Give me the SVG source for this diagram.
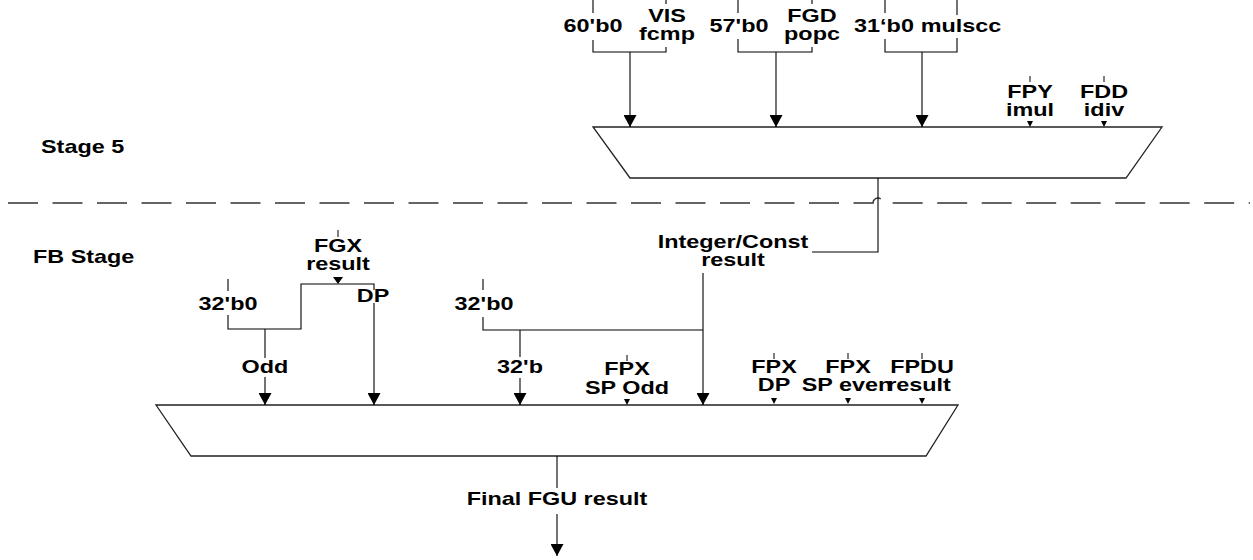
<svg xmlns="http://www.w3.org/2000/svg" width="1253" height="560" viewBox="0 0 1253 560">
<style>
.t{font-family:"Liberation Sans",Arial,sans-serif;font-weight:bold;font-size:18px;fill:#000;text-anchor:middle}
.s{text-anchor:start}
.ln{fill:none;stroke:#000;stroke-width:1.1}
.mux{fill:#fff;stroke:#222;stroke-width:1.3}
.tri{fill:#000}
.tick{stroke:#000;stroke-width:1}
.dash{fill:none;stroke:#333;stroke-width:1.5;stroke-dasharray:30 14.5}
</style>
<defs>
<marker id="ah" viewBox="0 0 12 13" refX="12" refY="6.5" markerWidth="12" markerHeight="13" markerUnits="userSpaceOnUse" orient="auto">
<path d="M0,0 L12,6.5 L0,13 z" fill="#000"/>
</marker>
</defs>
<rect width="1253" height="560" fill="#fff"/>

<g id="stage-labels">
<text class="t s" transform="translate(41,153) scale(1.3,1)">Stage 5</text>
<text class="t s" transform="translate(33,263) scale(1.3,1)">FB Stage</text>
</g>

<path id="stage-divider" class="dash" d="M8,203 H873 A5,5 0 0 1 883,203 H1250"/>

<g id="mux-stage5">
<polygon class="mux" points="593,127 1162,127 1126,178 630,178"/>
</g>
<g id="mux-fb">
<polygon class="mux" points="156,405 958,405 926,456 191,456"/>
</g>

<g id="in-60b0-vis">
<text class="t" transform="translate(593,32) scale(1.3,1)">60'b0</text>
<text class="t" transform="translate(667,22) scale(1.3,1)">VIS</text>
<text class="t" transform="translate(667,40) scale(1.3,1)">fcmp</text>
</g>
<g id="in-57b0-fgd">
<text class="t" transform="translate(739,32) scale(1.3,1)">57'b0</text>
<text class="t" transform="translate(812,22) scale(1.3,1)">FGD</text>
<text class="t" transform="translate(812,40) scale(1.3,1)">popc</text>
</g>
<g id="in-31b0-mulscc">
<text class="t" transform="translate(884,32) scale(1.3,1)">31‘b0</text>
<text class="t" transform="translate(961,32) scale(1.3,1)">mulscc</text>
</g>
<g id="in-fpy-imul">
<line class="tick" x1="1030" y1="76" x2="1030" y2="82"/>
<text class="t" transform="translate(1030,98) scale(1.3,1)">FPY</text>
<text class="t" transform="translate(1030,116) scale(1.3,1)">imul</text>
<polygon class="tri" points="1027,121 1033,121 1030,127"/>
</g>
<g id="in-fdd-idiv">
<line class="tick" x1="1104" y1="76" x2="1104" y2="82"/>
<text class="t" transform="translate(1104,98) scale(1.3,1)">FDD</text>
<text class="t" transform="translate(1104,116) scale(1.3,1)">idiv</text>
<polygon class="tri" points="1101,121 1107,121 1104,127"/>
</g>

<g id="in-fgx-result">
<line class="tick" x1="338" y1="230" x2="338" y2="237"/>
<text class="t" transform="translate(338,252) scale(1.3,1)">FGX</text>
<text class="t" transform="translate(338,270) scale(1.3,1)">result</text>
<polygon class="tri" points="333,277 343,277 338,284"/>
</g>
<g id="in-32b0-left">
<text class="t" transform="translate(228,310) scale(1.3,1)">32'b0</text>
</g>
<g id="lbl-dp">
<text class="t" transform="translate(373,302) scale(1.3,1)">DP</text>
</g>
<g id="lbl-odd">
<text class="t" transform="translate(265,373) scale(1.3,1)">Odd</text>
</g>
<g id="in-32b0-mid">
<text class="t" transform="translate(484,310) scale(1.3,1)">32'b0</text>
</g>
<g id="lbl-32b">
<text class="t" transform="translate(520,373) scale(1.3,1)">32'b</text>
</g>
<g id="lbl-int-const">
<text class="t" transform="translate(733,248) scale(1.3,1)">Integer/Const</text>
<text class="t" transform="translate(733,266) scale(1.3,1)">result</text>
</g>
<g id="in-fpx-sp-odd">
<line class="tick" x1="627" y1="355" x2="627" y2="361"/>
<text class="t" transform="translate(627,375) scale(1.3,1)">FPX</text>
<text class="t" transform="translate(627,394) scale(1.3,1)">SP Odd</text>
<polygon class="tri" points="624,399 630,399 627,405"/>
</g>
<g id="in-fpx-dp">
<line class="tick" x1="774" y1="353" x2="774" y2="359"/>
<text class="t" transform="translate(774,373) scale(1.3,1)">FPX</text>
<text class="t" transform="translate(774,391) scale(1.3,1)">DP</text>
<polygon class="tri" points="771,398 777,398 774,404"/>
</g>
<g id="in-fpx-sp-even">
<line class="tick" x1="848" y1="353" x2="848" y2="359"/>
<text class="t" transform="translate(848,373) scale(1.3,1)">FPX</text>
<text class="t" transform="translate(847,391) scale(1.3,1)">SP even</text>
<polygon class="tri" points="845,398 851,398 848,404"/>
</g>
<g id="in-fpdu-result">
<line class="tick" x1="922" y1="353" x2="922" y2="359"/>
<text class="t" transform="translate(922,373) scale(1.3,1)">FPDU</text>
<text class="t" transform="translate(919,391) scale(1.3,1)">result</text>
<polygon class="tri" points="919,398 925,398 922,404"/>
</g>
<g id="out-final">
<text class="t" transform="translate(557,505) scale(1.3,1)">Final FGU result</text>
</g>

<g id="connectors">
<path class="ln" d="M593,0 V13 M593,40 V52 H666 V47 M666,0 V4"/>
<path class="ln" d="M630,52 V127" marker-end="url(#ah)"/>
<path class="ln" d="M738,0 V13 M738,39 V52 H812 V47 M812,0 V4"/>
<path class="ln" d="M776,52 V127" marker-end="url(#ah)"/>
<path class="ln" d="M885,0 V13 M885,39 V52 H957 V38 M957,0 V15"/>
<path class="ln" d="M922,52 V127" marker-end="url(#ah)"/>
<path class="ln" d="M878,178 V252 H812"/>
<path class="ln" d="M228,279 V291 M228,315 V329 H301 V284 H374 V290"/>
<path class="ln" d="M374,303 V405" marker-end="url(#ah)"/>
<path class="ln" d="M265,329 V358"/>
<path class="ln" d="M265,377 V405" marker-end="url(#ah)"/>
<path class="ln" d="M483,279 V290 M483,317 V330 H703"/>
<path class="ln" d="M520,330 V357"/>
<path class="ln" d="M520,378 V405" marker-end="url(#ah)"/>
<path class="ln" d="M703,273 V405" marker-end="url(#ah)"/>
<path class="ln" d="M557,456 V488"/>
<path class="ln" d="M557,514 V556" marker-end="url(#ah)"/>
</g>
</svg>
